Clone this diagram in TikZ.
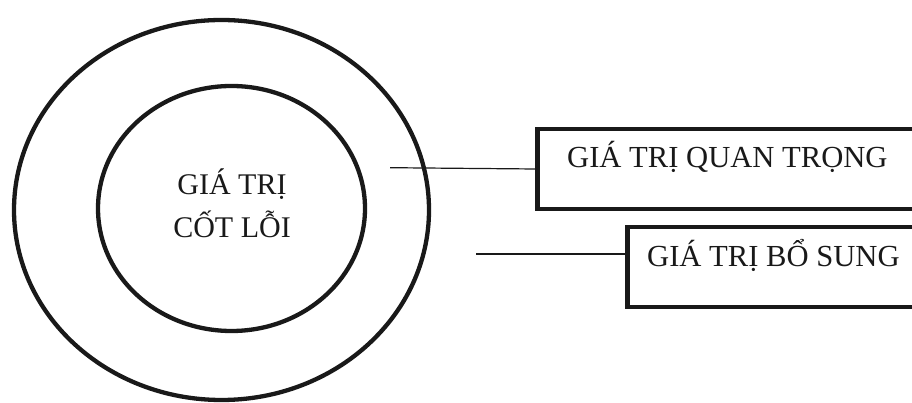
\documentclass[tikz,border=0pt]{standalone}
\usepackage{fontspec}
\setmainfont{Liberation Serif}
\usetikzlibrary{shapes.geometric}
\begin{document}
\begin{tikzpicture}[x=1pt,y=1pt,
  ring/.style={draw=black!90, line width=4.3pt, ellipse, inner sep=0pt},
  boxframe/.style={draw=black!90, line width=4.5pt, rectangle, inner sep=0pt, anchor=west, minimum width=420pt, minimum height=80pt},
  lbl/.style={font=\fontsize{30}{43}\selectfont, inner sep=0pt, text=black!90},
  boxlbl/.style={font=\fontsize{30.6}{43}\selectfont, inner sep=0pt, text=black!90},
  link/.style={draw=black!90, line width=1.2pt}]
\useasboundingbox (0,0) rectangle (912,403);
\clip (0,0) rectangle (912,403);
\node[ring, minimum width=415pt, minimum height=380pt] (outer) at (221.5,193) {};
\node[ring, minimum width=267pt, minimum height=245pt] (inner) at (231.5,194.5) {};
\node[lbl, anchor=base] (t1) at (232,208) {GIÁ TRỊ};
\node[lbl, anchor=base] (t2) at (232,165) {CỐT LỖI};
\node[boxframe] (b1) at (535,234) {};
\node[boxframe] (b2) at (625,136) {};
\node[boxlbl, anchor=base west] (l1) at (567,235) {GIÁ TRỊ QUAN TRỌNG};
\node[boxlbl, anchor=base west] (l2) at (647,136) {GIÁ TRỊ BỔ SUNG};
\coordinate (c1) at (390,235.3);
\coordinate (c2) at (476,149);
\draw[link] (c1) -- (b1.west);
\draw[link] (c2) -- (c2 -| b2.west);
\end{tikzpicture}
\end{document}
